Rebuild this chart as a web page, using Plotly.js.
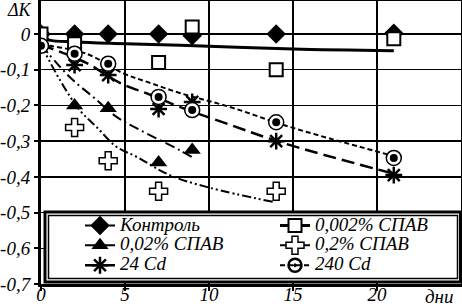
<!DOCTYPE html>
<html>
<head>
<meta charset="utf-8">
<script src="https://cdn.plot.ly/plotly-3.0.1.min.js"></script>
<style>html,body{margin:0;padding:0;background:#fff;overflow:hidden}#chart{width:462px;height:304px}</style>
</head>
<body>
<div id="chart"></div>
<script>
// ---- data ----
const seriesNames = ["Контроль", "0,002% СПАВ", "0,02% СПАВ", "0,2% СПАВ", "24 Cd", "240 Cd"];

const controlDays = [0, 2, 4, 7, 9, 14, 21];
const controlVals = [0, 0, 0, 0, -0.005, 0, 0.002];

const s0002Days = [0, 2, 7, 9, 14, 21];
const s0002Vals = [0, -0.027, -0.08, 0.02, -0.1, -0.013];

const s002Days = [2, 4, 7, 9];
const s002Vals = [-0.2, -0.208, -0.36, -0.325];

const s02Days = [2, 4, 7, 14];
const s02Vals = [-0.262, -0.355, -0.44, -0.44];

const cd24Days = [2, 4, 7, 9, 14, 21];
const cd24Vals = [-0.087, -0.115, -0.21, -0.19, -0.3, -0.395];

const cd240Days = [0, 2, 4, 7, 9, 14, 21];
const cd240Vals = [-0.033, -0.055, -0.083, -0.176, -0.213, -0.247, -0.347];

// trend curves as drawn in the reference
const controlTrendX = [0, 21];
const controlTrendY = [0, 0];
const s0002TrendX = [0, 0.5, 2, 5, 10, 15, 21];
const s0002TrendY = [-0.005, -0.017, -0.022, -0.027, -0.034, -0.042, -0.047];
const s002TrendX = [0, 1, 1.9, 3.1, 4.5, 5.9, 8.25, 9];
const s002TrendY = [-0.03, -0.085, -0.129, -0.176, -0.232, -0.269, -0.325, -0.345];
const s02TrendX = [0, 1.13, 2.3, 3.3, 4.5, 5.7, 7.66, 10, 13.8];
const s02TrendY = [-0.03, -0.129, -0.213, -0.26, -0.316, -0.344, -0.395, -0.43, -0.47];
const cd24TrendX = [0, 2.7, 4.7, 6.5, 8.25, 11.3, 14.4, 20.9];
const cd24TrendY = [-0.03, -0.081, -0.137, -0.17, -0.204, -0.255, -0.305, -0.39];
const cd240TrendX = [0, 2.7, 4.9, 6.5, 8.25, 11.3, 14.8, 20.7];
const cd240TrendY = [-0.03, -0.055, -0.11, -0.137, -0.165, -0.205, -0.26, -0.338];

const xTickVals = [0, 5, 10, 15, 20];
const xTickText = ["0", "5", "10", "15", "20"];
const yTickVals = [0, -0.1, -0.2, -0.3, -0.4, -0.5, -0.6, -0.7];
const yTickText = ["0", "-0,1", "-0,2", "-0,3", "-0,4", "-0,5", "-0,6", "-0,7"];
const yTitle = "ΔK";
const xTitle = "дни";

// ---- styles ----
const FONT = "Liberation Serif";
const lineStyles = [
  {dash: "8px,4px", width: 2},
  {dash: "solid", width: 3},
  {dash: "10px,4px,2px,4px", width: 2},
  {dash: "9px,3px,2px,3px,2px,3px", width: 2},
  {dash: "13px,6px", width: 2.5},
  {dash: "5px,3px", width: 2}
];
const markerStyles = [
  {symbol: "diamond", size: 15, color: "#000", line: {color: "#000", width: 0}},
  {symbol: "square", size: 13, color: "#fff", line: {color: "#000", width: 2}},
  {symbol: "triangle-up", size: 15, color: "#000", line: {color: "#000", width: 0}},
  {symbol: "cross", size: 15, color: "#fff", line: {color: "#000", width: 1.5}},
  {symbol: "asterisk-open", size: 14, color: "#000", line: {color: "#000", width: 2.5}},
  {symbol: "circle-open-dot", size: 13, color: "#000", line: {color: "#000", width: 2.5}}
];

const trendX = [controlTrendX, s0002TrendX, s002TrendX, s02TrendX, cd24TrendX, cd240TrendX];
const trendY = [controlTrendY, s0002TrendY, s002TrendY, s02TrendY, cd24TrendY, cd240TrendY];
const dataX = [controlDays, s0002Days, s002Days, s02Days, cd24Days, cd240Days];
const dataY = [controlVals, s0002Vals, s002Vals, s02Vals, cd24Vals, cd240Vals];

const traces = [];
for (let i = 0; i < 6; i++) {
  traces.push({
    type: "scatter", mode: "lines", x: trendX[i], y: trendY[i],
    line: {color: "#000", width: lineStyles[i].width, dash: lineStyles[i].dash, shape: "spline"},
    showlegend: false, hoverinfo: "skip"
  });
}
for (let i = 0; i < 6; i++) {
  if (i === 5) {
    traces.push({type: "scatter", mode: "markers", x: dataX[i], y: dataY[i], showlegend: false,
      marker: {symbol: "circle", size: 15, color: "#fff", line: {color: "#000", width: 1.5}}});
    traces.push({type: "scatter", mode: "markers", x: dataX[i], y: dataY[i], showlegend: false,
      marker: {symbol: "circle", size: 8, color: "#000", line: {width: 0}}});
  } else {
    traces.push({type: "scatter", mode: "markers", x: dataX[i], y: dataY[i], showlegend: false,
      marker: markerStyles[i]});
  }
}
for (let i = 0; i < 6; i++) {
  traces.push({
    type: "scatter", mode: "lines+markers", x: [null], y: [null],
    name: '<span style="font-size:19px">' + seriesNames[i] + '</span>',
    line: {color: "#000", width: lineStyles[i].width, dash: lineStyles[i].dash},
    marker: markerStyles[i], showlegend: true
  });
}

const PL = 41, PR = 1, PT = 1, PB = 20;
const W = 462, H = 304;
const pw = W - PL - PR, ph = H - PT - PB;
const px = v => (v - PL) / pw;
const py = v => (H - PB - v) / ph;

const layout = {
  width: W, height: H,
  margin: {l: PL, r: PR, t: PT, b: PB, pad: 0, autoexpand: false},
  paper_bgcolor: "#fff", plot_bgcolor: "#fff",
  font: {family: FONT, size: 18, color: "#000", style: "italic"},
  xaxis: {
    range: [0, 25], tickvals: xTickVals, ticktext: xTickText,
    showgrid: true, gridcolor: "#000", gridwidth: 1.5,
    showline: true, linecolor: "#000", linewidth: 3, mirror: true,
    ticks: "outside", ticklen: 4, tickwidth: 2, tickcolor: "#000",
    ticklabelstandoff: -13,
    zeroline: false, fixedrange: true, automargin: false,
    tickfont: {family: FONT, size: 19, style: "italic"}
  },
  yaxis: {
    range: [-0.7, 0.0925], tickvals: yTickVals, ticktext: yTickText,
    showgrid: true, gridcolor: "#000", gridwidth: 1.5,
    showline: true, linecolor: "#000", linewidth: 3, mirror: true,
    ticks: "outside", ticklen: 4, tickwidth: 2, tickcolor: "#000",
    zeroline: false, fixedrange: true, automargin: false,
    tickfont: {family: FONT, size: 19, style: "italic"}
  },
  showlegend: true,
  legend: {
    orientation: "h", x: px(80), y: py(210.5), xanchor: "left", yanchor: "top",
    bgcolor: "rgba(0,0,0,0)", borderwidth: 0,
    entrywidth: 150, entrywidthmode: "pixels",
    tracegroupgap: 0, itemwidth: 30,
    font: {family: FONT, size: 13, style: "italic", color: "#000"}
  },
  shapes: [
    {type: "rect", xref: "paper", yref: "paper", x0: px(45), x1: px(460.5), y0: py(282), y1: py(212),
      line: {color: "#000", width: 3}, fillcolor: "#fff", layer: "above"},
    {type: "rect", xref: "paper", yref: "paper", x0: px(48.5), x1: px(457.5), y0: py(278.5), y1: py(215.5),
      line: {color: "#000", width: 1.5}, fillcolor: "rgba(0,0,0,0)", layer: "above"}
  ],
  annotations: [
    {text: yTitle, xref: "paper", yref: "paper", x: px(19), y: py(10), xanchor: "center", yanchor: "middle",
      showarrow: false, font: {family: FONT, size: 18, style: "italic"}},
    {text: xTitle, xref: "paper", yref: "paper", x: px(423), y: py(296), xanchor: "left", yanchor: "middle",
      showarrow: false, font: {family: FONT, size: 19, style: "italic"}}
  ]
};

Plotly.newPlot("chart", traces, layout, {staticPlot: true, displayModeBar: false});
</script>
</body>
</html>
